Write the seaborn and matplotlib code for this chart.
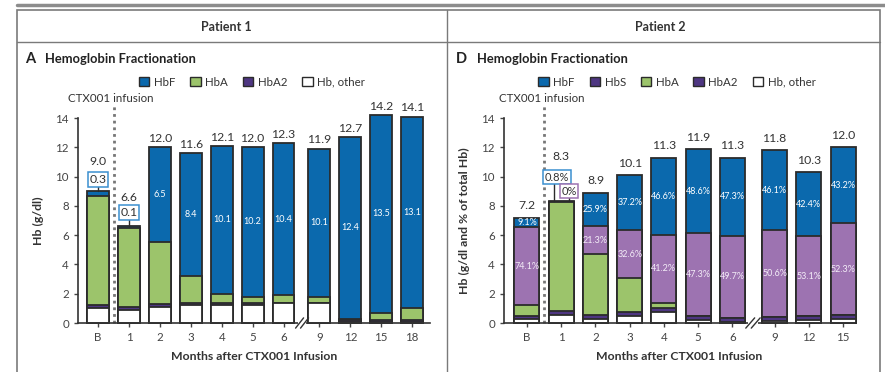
import numpy as np
import matplotlib.pyplot as plt
import seaborn as sns
from matplotlib.patches import Patch, Rectangle
from matplotlib.lines import Line2D

sns.set_style('ticks')
plt.rcParams['font.family'] = ['Lato', 'DejaVu Sans']

# ---- Patient 1 (g/dl) ----
p1_months = ['B', '1', '2', '3', '4', '5', '6', '9', '12', '15', '18']
p1_other = [1.0, 0.9, 1.1, 1.25, 1.25, 1.25, 1.35, 1.35, 0.05, 0.05, 0.05]
p1_hba2 = [0.2, 0.2, 0.2, 0.15, 0.15, 0.1, 0.05, 0.05, 0.15, 0.15, 0.15]
p1_hba = [7.5, 5.4, 4.2, 1.8, 0.6, 0.45, 0.5, 0.4, 0.1, 0.5, 0.8]
p1_hbf = [0.3, 0.1, 6.5, 8.4, 10.1, 10.2, 10.4, 10.1, 12.4, 13.5, 13.1]
p1_total = [9.0, 6.6, 12.0, 11.6, 12.1, 12.0, 12.3, 11.9, 12.7, 14.2, 14.1]

# ---- Patient 2 (g/dl and %) ----
p2_months = ['B', '1', '2', '3', '4', '5', '6', '9', '12', '15']
p2_other = [0.3, 0.55, 0.3, 0.5, 0.75, 0.2, 0.05, 0.15, 0.2, 0.25]
p2_hba2 = [0.2, 0.3, 0.25, 0.25, 0.3, 0.25, 0.29, 0.24, 0.26, 0.29]
p2_hba = [0.7, 7.38, 4.15, 2.3, 0.32, 0.04, 0.0, 0.0, 0.0, 0.0]
p2_hbs = [5.34, 0.0, 1.9, 3.29, 4.66, 5.63, 5.62, 5.97, 5.47, 6.28]
p2_hbf = [0.66, 0.07, 2.3, 3.76, 5.27, 5.78, 5.34, 5.44, 4.37, 5.18]
p2_total = [7.2, 8.3, 8.9, 10.1, 11.3, 11.9, 11.3, 11.8, 10.3, 12.0]
p2_hbf_pct = ['9.1%', '0.8%', '25.9%', '37.2%', '46.6%', '48.6%', '47.3%', '46.1%', '42.4%', '43.2%']
p2_hbs_pct = ['74.1%', '0%', '21.3%', '32.6%', '41.2%', '47.3%', '49.7%', '50.6%', '53.1%', '52.3%']

# bar positions (gap = axis break after month 6)
p1_pos = np.array([0, 1, 2, 3, 4, 5, 6, 7.16, 8.16, 9.16, 10.16])
p2_pos = np.array([0, 1, 2, 3, 4, 5, 6, 7.23, 8.23, 9.23])

BLUE = '#0b69ad'
GREEN = '#9cc46b'
DPURP = '#4e3682'
LPURP = '#9d73b1'
EDGE = '#2b2b2b'
TXT = '#333333'


def stack(ax, pos, layers, colors, width):
    cum = np.cumsum(np.array(layers), axis=0)
    for i in range(len(layers) - 1, -1, -1):
        sns.barplot(x=pos, y=cum[i], native_scale=True, width=width,
                    color=colors[i], saturation=1, edgecolor=EDGE,
                    linewidth=1.3, errorbar=None, ax=ax)
    for p in ax.patches:
        p.set_clip_on(False)


def style_axis(ax, pos, labels, xlim, ylabel, brk):
    ax.set_ylim(0, 14)
    ax.set_xlim(*xlim)
    ax.set_yticks(range(0, 15, 2))
    ax.set_xticks(pos)
    ax.set_xticklabels(labels)
    ax.tick_params(labelsize=8.3, colors='#444444', length=3, width=1)
    sns.despine(ax=ax)
    for s in ['left', 'bottom']:
        ax.spines[s].set_color('#333333')
        ax.spines[s].set_linewidth(1.2)
    ax.set_xlabel('Months after CTX001 Infusion', fontsize=8.8,
                  fontweight='bold', color=TXT, labelpad=6)
    ax.set_ylabel(ylabel, fontsize=8.8, fontweight='bold', color=TXT, labelpad=8)
    # axis break
    tr = ax.get_xaxis_transform()
    ax.add_patch(Rectangle((brk - 0.14, -0.02), 0.28, 0.04, transform=tr,
                           fc='white', ec='none', clip_on=False, zorder=5))
    for dx in (-0.08, 0.08):
        ax.plot([brk + dx - 0.13, brk + dx + 0.13], [-0.025, 0.025], transform=tr,
                color='#333333', lw=1, clip_on=False, zorder=6)
    # infusion marker
    ax.plot([0.5, 0.5], [0, 14.8], ls=(0, (1, 1.4)), lw=2, color='#777777',
            clip_on=False, zorder=1)


fig = plt.figure(figsize=(8.85, 3.72), dpi=100)

# ---- frame ----
fig.add_artist(Line2D([17 / 885, 1.0], [1 - 5 / 372] * 2, lw=2.5, color='#8c8c8c'))
fig.add_artist(Rectangle((17 / 885, -0.05), 863 / 885, 1.05 - 10 / 372,
                         fill=False, ec='#7a7a7a', lw=1.2))
fig.add_artist(Line2D([17 / 885, 880 / 885], [1 - 42 / 372] * 2, lw=1, color='#7a7a7a'))
fig.add_artist(Line2D([447 / 885] * 2, [-0.05, 1 - 10 / 372], lw=1, color='#7a7a7a'))
fig.text(226 / 885, 1 - 27 / 372, 'Patient 1', ha='center', va='center',
         fontsize=9, fontweight='bold', color=TXT)
fig.text(660 / 885, 1 - 27 / 372, 'Patient 2', ha='center', va='center',
         fontsize=9, fontweight='bold', color=TXT)
fig.text(25 / 885, 1 - 59 / 372, 'A', ha='left', va='center', fontsize=10.5,
         fontweight='bold', color='#222222')
fig.text(45 / 885, 1 - 59 / 372, 'Hemoglobin Fractionation', ha='left', va='center',
         fontsize=9.3, fontweight='bold', color='#222222')
fig.text(456 / 885, 1 - 59 / 372, 'D', ha='left', va='center', fontsize=10.5,
         fontweight='bold', color='#222222')
fig.text(477 / 885, 1 - 59 / 372, 'Hemoglobin Fractionation', ha='left', va='center',
         fontsize=9.3, fontweight='bold', color='#222222')

# ---- Patient 1 ----
ax1 = fig.add_axes([78 / 885, 1 - 323 / 372, 352 / 885, 205 / 372])
stack(ax1, p1_pos, [p1_other, p1_hba2, p1_hba, p1_hbf],
      ['white', DPURP, GREEN, BLUE], 0.71)
style_axis(ax1, p1_pos, p1_months, (-0.65, 10.74), 'Hb (g/dl)', 6.6)
ax1.text(0.4, 15.35, 'CTX001 infusion', ha='center', va='center', fontsize=8.3, color=TXT)

for i, (x, t) in enumerate(zip(p1_pos, p1_total)):
    if i < 2:
        continue
    ax1.text(x, t + 0.6, f'{t:.1f}', ha='center', va='center', fontsize=8.8, color=TXT)
    mid = t - p1_hbf[i] / 2
    ax1.text(x, mid, f'{p1_hbf[i]:.1f}', ha='center', va='center', fontsize=6.5, color='white')

for i, (ybox, ytot) in enumerate([(9.8, 11.05), (7.56, 8.6)]):
    x, t = p1_pos[i], p1_total[i]
    ax1.plot([x, x], [t, ybox - 0.45], color=EDGE, lw=1, clip_on=False)
    ax1.text(x, ybox, f'{p1_hbf[i]:.1f}', ha='center', va='center', fontsize=8.8, color=TXT,
             bbox=dict(boxstyle='square,pad=0.15', fc='white', ec='#3b8fd0', lw=1.1))
    ax1.text(x, ytot, f'{t:.1f}', ha='center', va='center', fontsize=8.8, color=TXT)

leg1 = [Patch(fc=BLUE, ec=EDGE, label='HbF'), Patch(fc=GREEN, ec=EDGE, label='HbA'),
        Patch(fc=DPURP, ec=EDGE, label='HbA2'), Patch(fc='white', ec=EDGE, label='Hb, other')]
fig.legend(handles=leg1, loc='center', bbox_to_anchor=(252 / 885, 1 - 82 / 372), ncol=4,
           frameon=False, fontsize=8.3, handlelength=0.9, handleheight=0.9,
           handletextpad=0.4, columnspacing=1.3, labelcolor=TXT)

# ---- Patient 2 ----
ax2 = fig.add_axes([504 / 885, 1 - 323 / 372, 350 / 885, 205 / 372])
stack(ax2, p2_pos, [p2_other, p2_hba2, p2_hba, p2_hbs, p2_hbf],
      ['white', DPURP, GREEN, LPURP, BLUE], 0.73)
style_axis(ax2, p2_pos, p2_months, (-0.67, 9.55), 'Hb (g/dl and % of total Hb)', 6.6)
ax2.text(0.43, 15.35, 'CTX001 infusion', ha='center', va='center', fontsize=8.3, color=TXT)

for i, (x, t) in enumerate(zip(p2_pos, p2_total)):
    if i == 1:
        continue
    ax2.text(x, t + 0.8, f'{t:.1f}', ha='center', va='center', fontsize=8.8, color=TXT)
    ax2.text(x, t - p2_hbf[i] / 2, p2_hbf_pct[i], ha='center', va='center',
             fontsize=6.5, color='white')
    s_mid = t - p2_hbf[i] - p2_hbs[i] / 2
    ax2.text(x, s_mid, p2_hbs_pct[i], ha='center', va='center', fontsize=6.5,
             color='#f3ecf7')

x1, t1 = p2_pos[1], p2_total[1]
ax2.text(x1, t1 + 3.1, f'{t1:.1f}', ha='center', va='center', fontsize=8.8, color=TXT)
ax2.plot([x1 - 0.21, x1 - 0.21], [t1, 9.6], color=EDGE, lw=1, clip_on=False)
ax2.text(x1 - 0.12, 9.95, p2_hbf_pct[1], ha='center', va='center', fontsize=8, color=TXT,
         bbox=dict(boxstyle='square,pad=0.15', fc='white', ec='#3b8fd0', lw=1.1))
ax2.plot([x1 + 0.23, x1 + 0.23], [t1, 8.65], color=EDGE, lw=1, clip_on=False)
ax2.text(x1 + 0.23, 9.0, p2_hbs_pct[1], ha='center', va='center', fontsize=8, color=TXT,
         bbox=dict(boxstyle='square,pad=0.15', fc='white', ec=LPURP, lw=1.1))

leg2 = [Patch(fc=BLUE, ec=EDGE, label='HbF'), Patch(fc=DPURP, ec=EDGE, label='HbS'),
        Patch(fc=GREEN, ec=EDGE, label='HbA'), Patch(fc=DPURP, ec=EDGE, label='HbA2'),
        Patch(fc='white', ec=EDGE, label='Hb, other')]
fig.legend(handles=leg2, loc='center', bbox_to_anchor=(677 / 885, 1 - 82 / 372), ncol=5,
           frameon=False, fontsize=8.3, handlelength=0.9, handleheight=0.9,
           handletextpad=0.4, columnspacing=1.3, labelcolor=TXT)

fig.savefig('out.png', dpi=100)
